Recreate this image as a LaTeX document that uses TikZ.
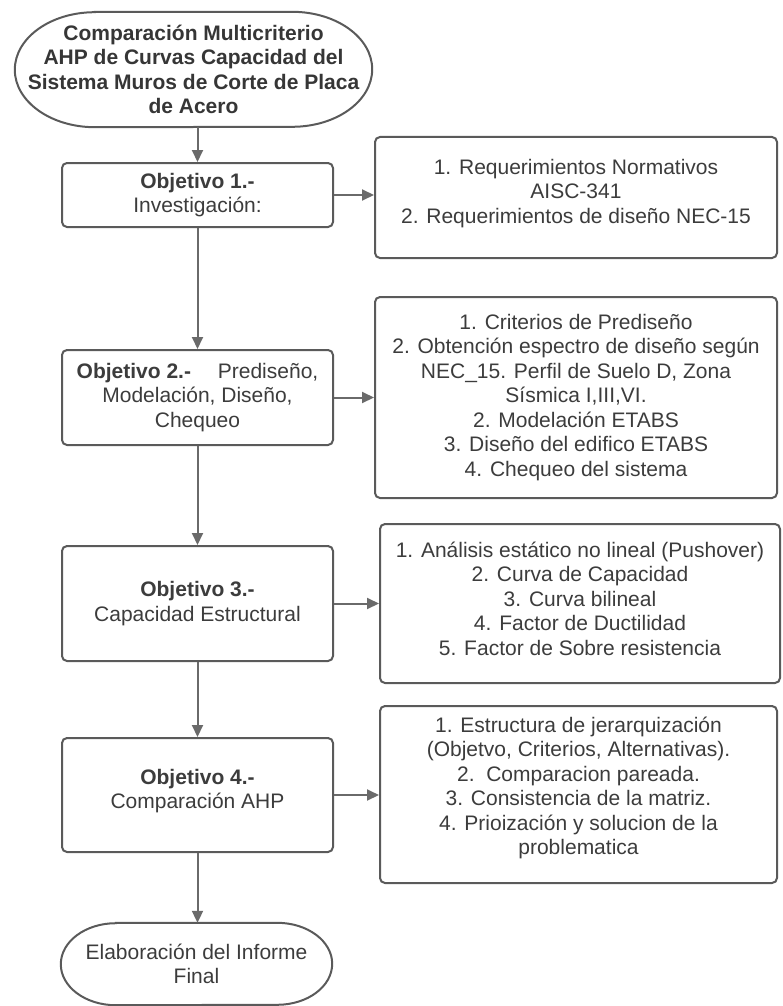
\documentclass[tikz,border=0pt]{standalone}
\usepackage{fontspec}
\setmainfont{Liberation Sans}
\usetikzlibrary{arrows.meta,calc}
\definecolor{linegray}{HTML}{5A5A5A}
\definecolor{conngray}{HTML}{6A6A6A}
\definecolor{txtgray}{HTML}{3C3C3C}
\newcommand{\boxfont}{\fontsize{21}{24.5}\selectfont}
\newcommand{\lowdepth}[1]{\rule[-#1]{0pt}{#1}}
\tikzset{
  box/.style={draw=linegray, line width=2pt, rounded corners=5pt, fill=white,
    align=center, text=txtgray, font=\boxfont, inner sep=0pt},
  term/.style={draw=none, align=center, text=txtgray, font=\boxfont, inner sep=0pt},
  termline/.style={draw=linegray, line width=2pt},
  conn/.style={draw=conngray, line width=2pt, -{Triangle[length=12pt,width=11pt]}},
}
\begin{document}
\begin{tikzpicture}[x=1pt,y=-1pt]
\useasboundingbox (0,0) rectangle (782,1006);
% title terminator
\node[term, minimum width=357pt, minimum height=115pt, font=\boxfont\bfseries, text=txtgray!90!black]
  (title) at (193.5,69.5)
  {Comparación Multicriterio\\AHP de Curvas Capacidad del\\Sistema Muros de Corte de Placa\\de Acero};
\draw[termline] ([xshift=80pt]title.north west) -- ([xshift=-80pt]title.north east)
  arc[start angle=90, end angle=-90, x radius=80pt, y radius=57.5pt]
  -- ([xshift=80pt]title.south west)
  arc[start angle=270, end angle=90, x radius=80pt, y radius=57.5pt] -- cycle;
% objective boxes
\node[box, minimum width=271pt, minimum height=64pt] (o1) at (197.5,195)
  {\textbf{Objetivo 1.-}\\Investigación:};
\node[box, minimum width=271pt, minimum height=95pt] (o2) at (197.5,397.5)
  {\textbf{Objetivo 2.-}\quad\ Prediseño,\\Modelación, Diseño,\\Chequeo};
\node[box, minimum width=271pt, minimum height=115pt] (o3) at (197.5,603.5)
  {\textbf{Objetivo 3.-}\\Capacidad Estructural};
\node[box, minimum width=271pt, minimum height=114pt] (o4) at (197.5,795)
  {\textbf{Objetivo 4.-}\\Comparación AHP\lowdepth{12pt}};
% detail boxes
\node[box, minimum width=402pt, minimum height=121pt] (d1) at (576,197.5)
  {1. Requerimientos Normativos\\AISC-341\\2. Requerimientos de diseño NEC-15\lowdepth{13pt}};
\node[box, minimum width=402pt, minimum height=201pt] (d2) at (576,397.5)
  {1. Criterios de Prediseño\\2. Obtención espectro de diseño según\\NEC\_15. Perfil de Suelo D, Zona\\Sísmica I,III,VI.\\2. Modelación ETABS\\3. Diseño del edifico ETABS\\4. Chequeo del sistema};
\node[box, minimum width=400pt, minimum height=159pt] (d3) at (580,603.5)
  {1. Análisis estático no lineal (Pushover)\\2. Curva de Capacidad\\3. Curva bilineal\\4. Factor de Ductilidad\\5. Factor de Sobre resistencia\lowdepth{10pt}};
\node[box, minimum width=397pt, minimum height=177pt] (d4) at (578.5,794.5)
  {1. Estructura de jerarquización\\(Objetvo, Criterios, Alternativas).\\2.\ \ Comparacion pareada.\\3. Consistencia de la matriz.\\4. Prioización y solucion de la\\problematica\lowdepth{17pt}};
% final terminator
\node[term, minimum width=271pt, minimum height=82pt] (final) at (196.5,964)
  {Elaboración del Informe\\Final};
\draw[termline] ([xshift=55pt]final.north west) -- ([xshift=-55pt]final.north east)
  arc[start angle=90, end angle=-90, x radius=55pt, y radius=41pt]
  -- ([xshift=55pt]final.south west)
  arc[start angle=270, end angle=90, x radius=55pt, y radius=41pt] -- cycle;
% vertical connectors
\draw[conn] (title.south -| o1.north) -- (o1.north);
\draw[conn] (o1.south) -- (o2.north);
\draw[conn] (o2.south) -- (o3.north);
\draw[conn] (o3.south) -- (o4.north);
\draw[conn] (o4.south) -- (final.north -| o4.south);
% horizontal connectors
\draw[conn] (o1.east) -- (o1.east -| d1.west);
\draw[conn] (o2.east) -- (o2.east -| d2.west);
\draw[conn] (o3.east) -- (o3.east -| d3.west);
\draw[conn] (o4.east) -- (o4.east -| d4.west);
\end{tikzpicture}
\end{document}
